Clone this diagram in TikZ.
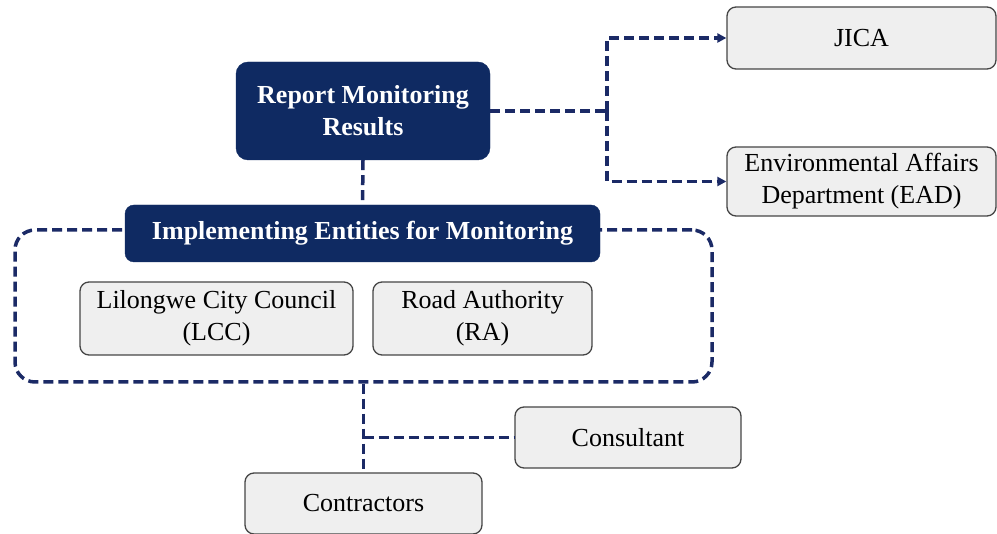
\documentclass[tikz,border=0pt]{standalone}
\usepackage{fontspec}
\setmainfont{Liberation Serif}
\usetikzlibrary{arrows.meta}
\definecolor{navy}{HTML}{0F2A62}
\definecolor{boxgray}{HTML}{EFEFEF}
\definecolor{edgegray}{HTML}{454545}
\definecolor{linenavy}{HTML}{1B2A66}
\begin{document}
\begin{tikzpicture}[x=1pt,y=-1pt,
 darkbox/.style={draw=navy, fill=navy, rounded corners=12pt, text=white, font=\fontsize{26}{32}\selectfont\bfseries, align=center, inner sep=0pt},
 graybox/.style={draw=edgegray, line width=1.3pt, fill=boxgray, rounded corners=9pt, font=\fontsize{26}{32}\selectfont, align=center, inner sep=0pt},
 conn/.style={draw=linenavy, line width=3.5pt, dash pattern=on 10pt off 5pt},
 arr/.style={conn, -{Triangle[length=9pt,width=9pt]}},
 container/.style={draw=linenavy, line width=3.5pt, dash pattern=on 10pt off 5pt, rounded corners=20pt, inner sep=0pt}
]
\useasboundingbox (0,0) rectangle (997,534);
\node[container, minimum width=697pt, minimum height=152pt] (cont) at (363.5,306) {};
\node[darkbox, minimum width=254pt, minimum height=98pt] (rep) at (363,111) {Report Monitoring\\Results};
\node[darkbox, minimum width=475pt, minimum height=57pt, rounded corners=9pt] (impl) at (362.5,233.5) {Implementing Entities for Monitoring};
\node[graybox, minimum width=269pt, minimum height=62pt] (jica) at (861.5,38) {JICA};
\node[graybox, minimum width=269pt, minimum height=69pt] (ead) at (861.5,181.5) {Environmental Affairs\\Department (EAD)};
\node[graybox, minimum width=273pt, minimum height=73pt] (lcc) at (216.5,318.5) {Lilongwe City Council\\(LCC)};
\node[graybox, minimum width=219pt, minimum height=73pt] (ra) at (482.5,318.5) {Road Authority\\(RA)};
\node[graybox, minimum width=226pt, minimum height=61pt] (cons) at (628,437.5) {Consultant};
\node[graybox, minimum width=237pt, minimum height=61pt] (contr) at (363.5,503.5) {Contractors};
\coordinate (split) at (607,111);
\draw[conn] (rep.south) -- (impl.north);
\draw[conn] (rep.east) -- (split);
\draw[arr] (split) |- (jica.west);
\draw[arr] (split) |- (ead.west);
\draw[conn] (cont.south) -- (contr.north);
\draw[conn] (cont.south |- cons.west) -- (cons.west);
\end{tikzpicture}
\end{document}
